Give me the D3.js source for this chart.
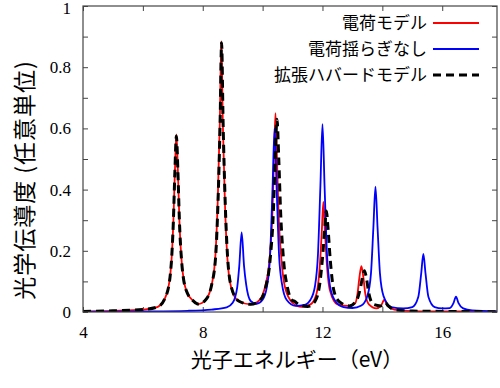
<!DOCTYPE html>
<html>
<head>
<meta charset="utf-8">
<script src="https://cdn.jsdelivr.net/npm/d3@7"></script>
<style>
  body { margin: 0; background: #fff; }
  svg { display: block; }
</style>
</head>
<body>
<div id="chart"></div>
<script>
// photon energy (eV), optical conductivity (arb. units)
const chargeModel = [
    [4.0, 0.002], [5.0, 0.004], [6.0, 0.008], [6.5, 0.017], [6.8, 0.06], [6.95, 0.16],
    [7.02, 0.30], [7.07, 0.46], [7.12, 0.58], [7.17, 0.46], [7.22, 0.30], [7.3, 0.16],
    [7.45, 0.07], [7.7, 0.035], [7.85, 0.026], [8.1, 0.04], [8.3, 0.09], [8.42, 0.18],
    [8.5, 0.36], [8.57, 0.62], [8.62, 0.885], [8.67, 0.62], [8.74, 0.36], [8.82, 0.18],
    [8.95, 0.08], [9.2, 0.035], [9.6, 0.025], [9.9, 0.04], [10.1, 0.09], [10.23, 0.17],
    [10.33, 0.33], [10.38, 0.5], [10.43, 0.65], [10.48, 0.5], [10.53, 0.33], [10.63, 0.17],
    [10.75, 0.08], [11.0, 0.03], [11.3, 0.017], [11.6, 0.025], [11.8, 0.06], [11.93, 0.18],
    [11.98, 0.27], [12.03, 0.36], [12.08, 0.27], [12.13, 0.18], [12.25, 0.07], [12.5, 0.025],
    [12.9, 0.02], [13.1, 0.03], [13.17, 0.06], [13.23, 0.11], [13.3, 0.15], [13.37, 0.11],
    [13.43, 0.06], [13.55, 0.025], [13.8, 0.012], [13.95, 0.02], [14.07, 0.04], [14.17, 0.02],
    [14.4, 0.008], [15.0, 0.003], [16.0, 0.002], [17.83, 0.001]
];

const noFluctuation = [
    [4.0, 0.001], [6.0, 0.002], [7.5, 0.004], [8.3, 0.008], [8.8, 0.015], [9.0, 0.03],
    [9.15, 0.08], [9.22, 0.15], [9.3, 0.26], [9.38, 0.15], [9.45, 0.09], [9.6, 0.036],
    [9.8, 0.027], [10.0, 0.04], [10.15, 0.086], [10.25, 0.185], [10.33, 0.40], [10.4, 0.60],
    [10.47, 0.40], [10.55, 0.185], [10.65, 0.09], [10.8, 0.04], [11.1, 0.02], [11.4, 0.023],
    [11.6, 0.04], [11.75, 0.085], [11.85, 0.19], [11.93, 0.41], [12.0, 0.614], [12.07, 0.41],
    [12.15, 0.19], [12.25, 0.085], [12.4, 0.04], [12.7, 0.016], [13.0, 0.013], [13.3, 0.021],
    [13.5, 0.052], [13.62, 0.126], [13.7, 0.275], [13.77, 0.41], [13.84, 0.275], [13.92, 0.126],
    [14.04, 0.052], [14.3, 0.016], [14.7, 0.012], [15.0, 0.016], [15.2, 0.049], [15.3, 0.128],
    [15.37, 0.19], [15.44, 0.128], [15.54, 0.049], [15.75, 0.016], [16.0, 0.012], [16.25, 0.013],
    [16.38, 0.03], [16.46, 0.05], [16.54, 0.03], [16.7, 0.012], [17.0, 0.005], [17.83, 0.002]
];

const extendedHubbard = [
    [4.0, 0.002], [5.0, 0.004], [6.0, 0.008], [6.5, 0.017], [6.8, 0.06], [6.95, 0.16],
    [7.02, 0.30], [7.07, 0.46], [7.12, 0.575], [7.17, 0.46], [7.22, 0.30], [7.3, 0.16],
    [7.45, 0.07], [7.7, 0.035], [7.85, 0.026], [8.1, 0.04], [8.3, 0.09], [8.43, 0.18],
    [8.51, 0.36], [8.58, 0.62], [8.63, 0.88], [8.68, 0.62], [8.75, 0.36], [8.83, 0.18],
    [8.96, 0.08], [9.2, 0.036], [9.6, 0.025], [9.9, 0.037], [10.1, 0.08], [10.25, 0.17],
    [10.36, 0.33], [10.42, 0.5], [10.48, 0.63], [10.54, 0.5], [10.6, 0.33], [10.7, 0.17],
    [10.83, 0.08], [10.97, 0.04], [11.08, 0.034], [11.2, 0.025], [11.5, 0.018], [11.75, 0.035],
    [11.92, 0.1], [12.02, 0.2], [12.08, 0.28], [12.13, 0.33], [12.18, 0.28], [12.26, 0.17],
    [12.38, 0.07], [12.55, 0.035], [12.9, 0.02], [13.15, 0.04], [13.27, 0.08], [13.34, 0.115],
    [13.4, 0.135], [13.46, 0.115], [13.55, 0.06], [13.7, 0.025], [13.95, 0.02], [14.1, 0.03],
    [14.2, 0.02], [14.4, 0.008], [15.0, 0.003], [16.0, 0.002], [17.83, 0.001]
];

const seriesNames = ['電荷モデル', '電荷揺らぎなし', '拡張ハバードモデル'];
const xTickLabels = [4, 8, 12, 16];
const yTickLabels = [0, 0.2, 0.4, 0.6, 0.8, 1];

const svgWidth = 500;
const svgHeight = 388;
const margin = { top: 6, right: 3, bottom: 76, left: 83 };
const width = svgWidth - margin.left - margin.right;
const height = svgHeight - margin.top - margin.bottom;

const svg = d3.select('#chart')
    .append('svg')
    .attr('width', svgWidth)
    .attr('height', svgHeight);

const bounds = svg.append('g')
    .attr('transform', `translate(${margin.left}, ${margin.top})`);

const xScale = d3.scaleLinear()
    .domain([4, 17.83])
    .range([0, width]);

const yScale = d3.scaleLinear()
    .domain([0, 1])
    .range([height, 0]);

const tickFont = '"Liberation Serif", "Times New Roman", serif';
const cjkFont = '"Noto Sans CJK JP", sans-serif';
const frameColor = '#444';

// ticks point inward on all four sides
const xTicks = d3.range(4, 17.9, 2);
const yTicks = d3.range(0, 1.001, 0.1);

const styleAxis = g => {
    g.select('.domain').remove();
    g.selectAll('.tick line').attr('stroke', frameColor);
    g.selectAll('.tick text')
        .style('font-family', tickFont)
        .style('font-size', '17px')
        .attr('fill', '#000');
};

bounds.append('g')
    .attr('class', 'x axis')
    .attr('transform', `translate(0, ${height})`)
    .call(d3.axisBottom(xScale)
        .tickValues(xTicks)
        .tickSize(-5)
        .tickPadding(14)
        .tickFormat(d => xTickLabels.includes(d) ? d : ''))
    .call(styleAxis);

bounds.append('g')
    .attr('class', 'x axis top')
    .call(d3.axisTop(xScale).tickValues(xTicks).tickSize(-5).tickFormat(''))
    .call(styleAxis);

bounds.append('g')
    .attr('class', 'y axis')
    .call(d3.axisLeft(yScale)
        .tickValues(yTicks)
        .tickSize(-5)
        .tickPadding(12)
        .tickFormat(d => {
            const v = Math.round(d * 10) / 10;
            return yTickLabels.includes(v) ? v : '';
        }))
    .call(styleAxis)
    // keep the top label inside the picture
    .selectAll('.tick text')
    .filter(d => Math.round(d * 10) === 10)
    .attr('dy', '0.45em');

bounds.append('g')
    .attr('class', 'y axis right')
    .attr('transform', `translate(${width}, 0)`)
    .call(d3.axisRight(yScale).tickValues(yTicks).tickSize(-5).tickFormat(''))
    .call(styleAxis);

const lineGenerator = d3.line()
    .x(d => xScale(d[0]))
    .y(d => yScale(d[1]))
    .curve(d3.curveMonotoneX);

const series = [
    { name: seriesNames[0], values: chargeModel, color: '#ff0000', widthPx: 1.8, dash: null },
    { name: seriesNames[1], values: noFluctuation, color: '#0000ff', widthPx: 1.8, dash: null },
    { name: seriesNames[2], values: extendedHubbard, color: '#000', widthPx: 3, dash: '8,5' }
];

bounds.append('clipPath')
    .attr('id', 'plot-clip')
    .append('rect')
    .attr('width', width)
    .attr('height', height);

bounds.append('g')
    .attr('clip-path', 'url(#plot-clip)')
    .selectAll('.line-series')
    .data(series)
    .enter()
    .append('path')
    .attr('class', 'line-series')
    .attr('d', d => lineGenerator(d.values))
    .style('fill', 'none')
    .style('stroke', d => d.color)
    .style('stroke-width', d => d.widthPx)
    .style('stroke-dasharray', d => d.dash);

// frame
bounds.append('rect')
    .attr('width', width)
    .attr('height', height)
    .attr('fill', 'none')
    .attr('stroke', frameColor)
    .attr('stroke-width', 1.2);

// legend
const legend = svg.append('g')
    .attr('class', 'legend')
    .attr('transform', 'translate(427, 23)');

const legendRows = legend.selectAll('.legend-row')
    .data(series)
    .enter()
    .append('g')
    .attr('transform', (d, i) => `translate(0, ${i * 26})`);

legendRows.append('text')
    .attr('text-anchor', 'end')
    .attr('dy', '0.35em')
    .style('font-family', cjkFont)
    .style('font-size', '17px')
    .text(d => d.name);

legendRows.append('line')
    .attr('x1', 6)
    .attr('x2', 52)
    .style('stroke', d => d.color)
    .style('stroke-width', d => d.widthPx)
    .style('stroke-dasharray', d => d.dash);

// axis titles
svg.append('text')
    .attr('x', 297)
    .attr('y', 360)
    .attr('text-anchor', 'middle')
    .attr('dy', '0.35em')
    .style('font-family', cjkFont)
    .style('font-size', '21px')
    .text('光子エネルギー（eV）');

svg.append('text')
    .attr('transform', 'translate(25, 180) rotate(-90)')
    .attr('text-anchor', 'middle')
    .attr('dy', '0.35em')
    .style('font-family', cjkFont)
    .style('font-size', '23px')
    .style('letter-spacing', '1px')
    .text('光学伝導度 (任意単位)');
</script>
</body>
</html>
